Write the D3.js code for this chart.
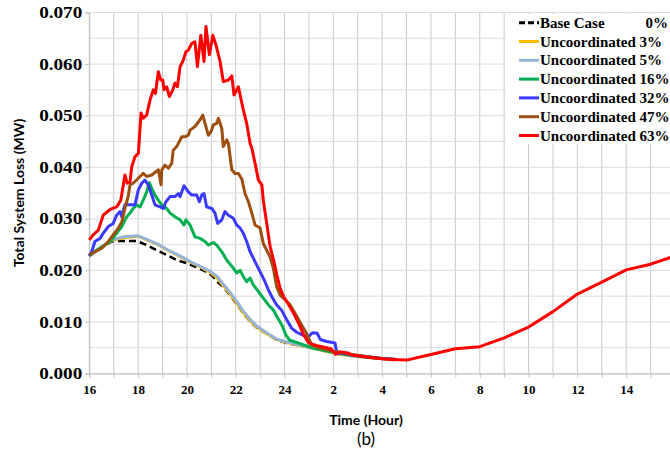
<!DOCTYPE html>
<html>
<head>
<meta charset="utf-8">
<script src="https://cdn.jsdelivr.net/npm/d3@7"></script>
<style>
  body { margin: 0; background: #fff; }
  svg { display: block; }
</style>
</head>
<body>
<div id="chart"></div>
<script>
// [hour, MW] - hours past midnight continue as 25, 26 ... 40
var baseCase = [[16,0.0228],[16.45,0.0243],[16.92,0.0256],[17.26,0.0257],[17.6,0.0257],[17.94,0.0257],[18.35,0.0249],[18.76,0.0239],[19.17,0.023],[19.58,0.022],[19.99,0.0214],[20.4,0.0206],[20.81,0.0197],[21.05,0.0189],[21.29,0.0176],[21.49,0.0168],[21.77,0.0152],[22.04,0.0135],[22.31,0.0117],[22.59,0.0101],[22.86,0.0089],[23.27,0.0077],[23.68,0.0065],[24.09,0.0059],[24.64,0.0054],[25.18,0.0049],[25.7,0.0043],[26.2,0.0038],[26.8,0.0034],[27.4,0.0031],[28,0.0029],[28.6,0.0027]];
var unc3 = [[16,0.0228],[16.44,0.0243],[16.92,0.0258],[17.39,0.0263],[18.01,0.0266],[18.35,0.0259],[18.76,0.0251],[19.24,0.0238],[19.72,0.0227],[20.13,0.0216],[20.54,0.0207],[20.95,0.0196],[21.22,0.0186],[21.49,0.017],[21.77,0.0154],[22.04,0.0137],[22.31,0.0118],[22.59,0.0102],[22.86,0.009],[23.27,0.0077],[23.68,0.0066],[24.09,0.006],[24.64,0.0054],[25.18,0.0049],[25.7,0.0043],[26.2,0.0038],[26.8,0.0034],[27.4,0.0031],[28,0.0029],[28.6,0.0027]];
var unc5 = [[16,0.0228],[16.44,0.0244],[16.92,0.0259],[17.39,0.0265],[18.01,0.0267],[18.35,0.026],[18.76,0.0252],[19.24,0.0239],[19.72,0.0228],[20.13,0.0217],[20.54,0.0208],[20.95,0.0198],[21.22,0.0189],[21.49,0.0173],[21.77,0.0157],[22.04,0.014],[22.31,0.0121],[22.59,0.0105],[22.86,0.0092],[23.27,0.0079],[23.68,0.0067],[24.09,0.0061],[24.64,0.0055],[25.18,0.0049],[25.7,0.0044],[26.2,0.0039],[26.8,0.0034],[27.4,0.0031],[28,0.0029],[28.6,0.0027]];
var unc16 = [[16,0.0228],[16.3,0.0239],[16.64,0.0249],[16.92,0.0259],[17.12,0.0272],[17.33,0.0285],[17.53,0.0304],[17.67,0.0311],[17.8,0.032],[17.94,0.0327],[18.08,0.0323],[18.21,0.0336],[18.35,0.0352],[18.46,0.037],[18.56,0.0359],[18.69,0.0346],[18.83,0.0336],[18.97,0.0327],[19.17,0.032],[19.31,0.0311],[19.51,0.0304],[19.72,0.0298],[19.88,0.0288],[19.96,0.0298],[20.13,0.0288],[20.33,0.0265],[20.54,0.0262],[20.74,0.0256],[20.88,0.0249],[21.08,0.0254],[21.22,0.0249],[21.43,0.0236],[21.63,0.022],[21.84,0.0208],[22.04,0.0195],[22.18,0.02],[22.31,0.0188],[22.45,0.0178],[22.59,0.0185],[22.72,0.0172],[22.93,0.0159],[23.13,0.0146],[23.34,0.0133],[23.54,0.0123],[23.75,0.0105],[23.9,0.0093],[24.05,0.0075],[24.2,0.0065],[24.64,0.0058],[25.18,0.0049],[25.7,0.0044],[26.2,0.0039],[26.8,0.0035],[27.4,0.0032],[28,0.0029],[28.6,0.0027]];
var unc32 = [[16,0.0228],[16.1,0.0236],[16.23,0.0256],[16.44,0.0262],[16.57,0.0272],[16.78,0.0285],[16.98,0.0291],[17.12,0.0307],[17.26,0.0314],[17.33,0.0304],[17.46,0.0327],[17.67,0.0327],[17.87,0.0327],[18.01,0.0356],[18.15,0.0369],[18.28,0.0375],[18.42,0.0365],[18.56,0.0346],[18.69,0.0327],[18.9,0.0323],[19.03,0.032],[19.14,0.0333],[19.31,0.0343],[19.51,0.0343],[19.65,0.0349],[19.72,0.0343],[19.88,0.0364],[20.06,0.0352],[20.2,0.0346],[20.4,0.0346],[20.51,0.0333],[20.61,0.0346],[20.7,0.0349],[20.81,0.0323],[21.02,0.032],[21.15,0.0311],[21.26,0.0291],[21.43,0.0298],[21.56,0.0314],[21.7,0.0307],[21.9,0.0301],[22.04,0.0288],[22.18,0.0282],[22.31,0.0272],[22.45,0.0256],[22.59,0.0236],[22.79,0.0217],[23.0,0.0197],[23.2,0.0178],[23.34,0.0162],[23.48,0.0149],[23.68,0.0133],[23.89,0.0122],[24.09,0.0104],[24.29,0.0088],[24.5,0.008],[24.77,0.0074],[24.98,0.0071],[25.14,0.0079],[25.34,0.0078],[25.46,0.0066],[25.73,0.0062],[26.07,0.0059],[26.14,0.004],[26.5,0.0038],[26.96,0.0035],[27.5,0.0032],[28,0.0029],[28.6,0.0027]];
var unc47 = [[16,0.023],[16.23,0.0236],[16.51,0.0243],[16.78,0.0256],[16.98,0.0269],[17.19,0.0282],[17.33,0.0294],[17.46,0.032],[17.53,0.0333],[17.6,0.0345],[17.67,0.0366],[17.8,0.0369],[18.08,0.0382],[18.21,0.0388],[18.35,0.0382],[18.56,0.0385],[18.83,0.0395],[18.94,0.0366],[18.97,0.0395],[19.1,0.0404],[19.24,0.0398],[19.38,0.0408],[19.44,0.0433],[19.58,0.044],[19.79,0.0459],[19.92,0.0459],[20.06,0.0462],[20.13,0.0472],[20.33,0.0479],[20.54,0.0492],[20.65,0.0501],[20.74,0.0485],[20.88,0.0462],[20.99,0.0469],[21.08,0.0482],[21.22,0.0485],[21.29,0.0495],[21.43,0.0475],[21.49,0.044],[21.63,0.0453],[21.7,0.0446],[21.84,0.0395],[21.97,0.0388],[22.11,0.0388],[22.25,0.0377],[22.38,0.0349],[22.52,0.0333],[22.66,0.0311],[22.79,0.0288],[23.0,0.0282],[23.13,0.0252],[23.27,0.0239],[23.41,0.0226],[23.54,0.0204],[23.68,0.0168],[23.82,0.0152],[24.02,0.0143],[24.23,0.0133],[24.43,0.0117],[24.64,0.0099],[24.91,0.0077],[25.11,0.0055],[25.46,0.0049],[26.0,0.0043],[26.6,0.0038],[27.2,0.0034],[27.9,0.0029],[28.5,0.0026]];
var unc63 = [[16,0.0259],[16.16,0.0269],[16.37,0.0278],[16.57,0.0307],[16.85,0.0318],[17.12,0.0323],[17.29,0.0336],[17.46,0.0385],[17.55,0.0369],[17.67,0.0372],[17.74,0.0401],[17.87,0.042],[18.01,0.0427],[18.12,0.0505],[18.21,0.0495],[18.35,0.0501],[18.49,0.053],[18.62,0.055],[18.71,0.0543],[18.83,0.0585],[18.93,0.0569],[19.01,0.0569],[19.06,0.055],[19.17,0.0556],[19.28,0.0537],[19.42,0.055],[19.51,0.0563],[19.61,0.0556],[19.72,0.0595],[19.83,0.0605],[19.96,0.0624],[20.06,0.0627],[20.2,0.064],[20.33,0.0643],[20.43,0.0595],[20.57,0.0656],[20.7,0.0605],[20.78,0.0673],[20.92,0.0618],[21.06,0.0656],[21.19,0.0637],[21.36,0.0605],[21.49,0.0566],[21.7,0.0569],[21.84,0.0577],[21.93,0.054],[22.11,0.0556],[22.31,0.0511],[22.45,0.0485],[22.59,0.0446],[22.66,0.0437],[22.79,0.0408],[22.93,0.0375],[23.07,0.0366],[23.13,0.0336],[23.41,0.0246],[23.55,0.022],[23.69,0.019],[23.82,0.0165],[23.96,0.0149],[24.1,0.0139],[24.37,0.0117],[24.58,0.0097],[24.78,0.0075],[24.99,0.0059],[25.34,0.0054],[25.62,0.0051],[25.9,0.0048],[26.1,0.0037],[26.24,0.0042],[26.6,0.004],[26.75,0.0036],[27.5,0.0031],[27.9,0.0029],[28.5,0.0027],[29,0.0026],[30,0.0037],[31,0.0048],[32,0.0052],[33,0.0069],[34,0.009],[35,0.012],[36,0.0154],[37,0.0177],[38,0.0201],[39,0.0212],[40,0.0228]];

var seriesNames = ["Base Case", "Uncoordinated 3%", "Uncoordinated 5%", "Uncoordinated 16%", "Uncoordinated 32%", "Uncoordinated 47%", "Uncoordinated 63%"];
var seriesData = [baseCase, unc3, unc5, unc16, unc32, unc47, unc63];
var colors = ["#000000", "#ffc000", "#95b3d7", "#00b050", "#3a3aff", "#9c4f10", "#ff0000"];

var xTicks = [16,18,20,22,24,26,28,30,32,34,36,38];
var yTicks = [0, 0.01, 0.02, 0.03, 0.04, 0.05, 0.06, 0.07];

var W = 670, H = 458;
var svg = d3.select("#chart").append("svg")
    .attr("width", W)
    .attr("height", H);

var x = d3.scaleLinear().domain([16, 40]).range([89.3, 675]);
var y = d3.scaleLinear().domain([0, 0.07]).range([373.5, 12.5]);

// grid
svg.append("g").selectAll("line")
    .data(d3.range(16, 41))
    .enter().append("line")
    .attr("x1", function(d){ return x(d); })
    .attr("x2", function(d){ return x(d); })
    .attr("y1", y(0.07))
    .attr("y2", y(0))
    .style("stroke", "#c9c9c9")
    .style("stroke-width", 1);

svg.append("g").selectAll("line")
    .data(d3.range(0, 15).map(function(i){ return i * 0.005; }))
    .enter().append("line")
    .attr("x1", x(16))
    .attr("x2", W)
    .attr("y1", function(d){ return y(d); })
    .attr("y2", function(d){ return y(d); })
    .style("stroke", "#dcdcdc")
    .style("stroke-width", 1);

// axes
var xAxis = d3.axisBottom(x)
    .tickValues(d3.range(16, 40))
    .tickSize(4)
    .tickFormat(function(d){ return xTicks.indexOf(d) >= 0 ? (d > 24 ? d - 24 : d) : ""; });

var gx = svg.append("g")
    .attr("transform", "translate(0," + y(0) + ")")
    .call(xAxis);
gx.select(".domain").style("stroke", "#bfbfbf");
gx.selectAll(".tick line").style("stroke", "#bfbfbf");
gx.selectAll("text")
    .attr("dy", "1.05em")
    .style("font-family", "'Liberation Serif', 'Times New Roman', serif")
    .style("font-weight", "bold")
    .style("font-size", "13px")
    .style("fill", "#000");

var yAxis = d3.axisLeft(y)
    .tickValues(yTicks)
    .tickSize(4)
    .tickFormat(d3.format(".3f"));

var gy = svg.append("g")
    .attr("transform", "translate(" + x(16) + ",0)")
    .call(yAxis);
gy.select(".domain").style("stroke", "#bfbfbf");
gy.selectAll(".tick line").style("stroke", "#bfbfbf");
gy.selectAll("text")
    .attr("x", 0)
    .attr("transform", "translate(-7,0) scale(1.2,1)")
    .style("font-family", "'Liberation Serif', 'Times New Roman', serif")
    .style("font-weight", "bold")
    .style("font-size", "16px")
    .style("fill", "#000");

// lines
var line = d3.line()
    .x(function(d){ return x(d[0]); })
    .y(function(d){ return y(d[1]); });

svg.append("g").selectAll("path")
    .data(seriesData)
    .enter().append("path")
    .attr("d", line)
    .style("fill", "none")
    .style("stroke", function(d, i){ return colors[i]; })
    .style("stroke-width", function(d, i){ return i == 0 ? 2.5 : 3; })
    .style("stroke-dasharray", function(d, i){ return i == 0 ? "7,4" : null; })
    .style("stroke-linejoin", "round");

// legend
var lg = svg.append("g");
lg.append("rect")
    .attr("x", 506).attr("y", 14)
    .attr("width", W - 506).attr("height", 130)
    .style("fill", "#fff");

var items = lg.selectAll("g.item")
    .data(seriesNames)
    .enter().append("g")
    .attr("class", "item")
    .attr("transform", function(d, i){ return "translate(0," + (22.7 + i * 18.8) + ")"; });

items.append("line")
    .attr("x1", 519).attr("x2", 539)
    .attr("y1", 0).attr("y2", 0)
    .style("stroke", function(d, i){ return colors[i]; })
    .style("stroke-width", 3)
    .style("stroke-dasharray", function(d, i){ return i == 0 ? "6,3" : null; });

items.append("text")
    .attr("x", 540).attr("y", 5)
    .text(function(d){ return d; })
    .style("font-family", "'Liberation Serif', 'Times New Roman', serif")
    .style("font-weight", "bold")
    .style("font-size", "15px");

lg.append("text")
    .attr("x", 668).attr("y", 27.7)
    .attr("text-anchor", "end")
    .text("0%")
    .style("font-family", "'Liberation Serif', 'Times New Roman', serif")
    .style("font-weight", "bold")
    .style("font-size", "15px");

// titles
svg.append("text")
    .attr("transform", "translate(24," + ((y(0) + y(0.07)) / 2) + ") rotate(-90)")
    .attr("text-anchor", "middle")
    .text("Total System Loss (MW)")
    .style("font-family", "Lato, 'Open Sans', sans-serif")
    .style("font-weight", "bold")
    .style("font-size", "14px");

svg.append("text")
    .attr("x", 366).attr("y", 425)
    .attr("text-anchor", "middle")
    .text("Time (Hour)")
    .style("font-family", "Lato, 'Open Sans', sans-serif")
    .style("font-weight", "bold")
    .style("font-size", "14px");

svg.append("text")
    .attr("x", 366).attr("y", 445)
    .attr("text-anchor", "middle")
    .text("(b)")
    .style("font-family", "Lato, 'Open Sans', sans-serif")
    .style("font-size", "17px");
</script>
</body>
</html>
